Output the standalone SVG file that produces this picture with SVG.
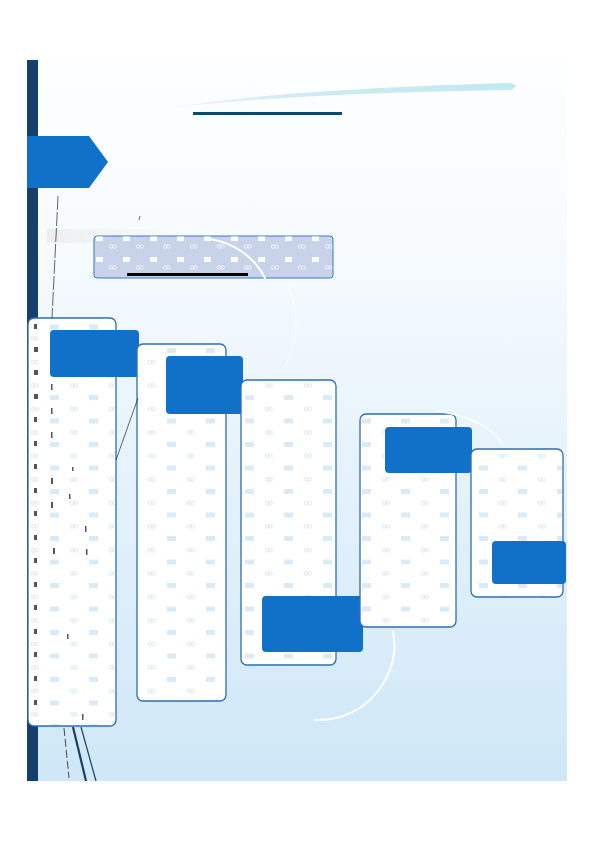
<svg xmlns="http://www.w3.org/2000/svg" width="595" height="842" viewBox="0 0 595 842">
<defs>
<linearGradient id="bg" x1="0" y1="0" x2="0" y2="1">
<stop offset="0" stop-color="#fdfeff"/>
<stop offset="0.25" stop-color="#f7fbfe"/>
<stop offset="0.5" stop-color="#e9f4fc"/>
<stop offset="1" stop-color="#cfe7f7"/>
</linearGradient>
<linearGradient id="swoosh" x1="0" y1="0" x2="1" y2="0">
<stop offset="0" stop-color="#d6eef3" stop-opacity="0.6"/>
<stop offset="0.4" stop-color="#cdebf1"/>
<stop offset="1" stop-color="#c4e8f0"/>
</linearGradient>
<linearGradient id="band" x1="0" y1="0" x2="1" y2="0">
<stop offset="0" stop-color="#eeeeee"/>
<stop offset="1" stop-color="#ffffff" stop-opacity="0"/>
</linearGradient>
<pattern id="cardPat" x="245" y="395" width="39" height="23.5" patternUnits="userSpaceOnUse">
<rect x="0" y="0" width="9" height="5" fill="#dceaf6"/>
<g fill="none" stroke="#d3e3f1" stroke-width="0.9">
<circle cx="22" cy="14" r="1.8"/><circle cx="25.5" cy="14" r="1.8"/>
</g>
</pattern>
<pattern id="banPat" x="96" y="236" width="27" height="21" patternUnits="userSpaceOnUse">
<rect x="0" y="0" width="7" height="5" fill="#ffffff"/>
<g fill="none" stroke="#eef2fa" stroke-width="1">
<circle cx="15" cy="10.5" r="1.8"/><circle cx="18.5" cy="10.5" r="1.8"/>
</g>
</pattern>
<style>
.card{fill:#ffffff;stroke:#2e6db6;stroke-width:1.3}
.pat{fill:url(#cardPat)}
.box{fill:#1170c8}
.thin{stroke:#222;stroke-width:0.7;fill:none}
.arc{stroke:#ffffff;stroke-width:2;fill:none;stroke-linecap:round}
.dk{fill:#555}
</style>
</defs>

<!-- background -->
<rect x="27" y="60" width="540" height="721" fill="url(#bg)"/>
<rect x="27" y="60" width="11" height="721" fill="#173f6b"/>

<!-- title decoration -->
<g id="title">
<path d="M170,108 C260,93 380,87 511,83 L517,86 L511,90 C380,92 260,97 170,108 Z" fill="url(#swoosh)"/>
<rect x="193" y="112" width="149" height="3" fill="#0e4a6e"/>
</g>

<!-- tab -->
<g id="tab">
<polygon points="27,136 89,136 108,162 89,188 27,188" fill="#1170c8"/>
</g>

<!-- banner -->
<g id="banner">
<rect x="47" y="229" width="240" height="14" fill="url(#band)"/>
<rect x="94" y="236" width="239" height="42" rx="3" fill="#c8d3ea" stroke="#3a78c0" stroke-width="1"/>
<rect x="94.5" y="236.5" width="238" height="41" rx="3" fill="url(#banPat)"/>
<rect x="127" y="273" width="121" height="3" fill="#000"/>
</g>

<!-- cards -->
<g id="card1">
<rect class="card" x="28" y="318" width="88" height="408" rx="6"/>
<rect class="pat" x="29" y="319" width="86" height="406" rx="6"/>
<g class="dk">
<rect x="34" y="324" width="3" height="5"/><rect x="34" y="347" width="4" height="5"/><rect x="34" y="370" width="4" height="5"/>
<rect x="34" y="394" width="4" height="5"/><rect x="34" y="417" width="3" height="5"/><rect x="34" y="441" width="3" height="5"/>
<rect x="34" y="464" width="3" height="5"/><rect x="34" y="488" width="3" height="5"/><rect x="34" y="511" width="3" height="5"/>
<rect x="34" y="535" width="3" height="5"/><rect x="34" y="558" width="3" height="5"/><rect x="34" y="582" width="3" height="5"/>
<rect x="34" y="605" width="3" height="5"/><rect x="34" y="629" width="3" height="5"/><rect x="34" y="652" width="3" height="5"/>
<rect x="34" y="676" width="3" height="5"/><rect x="34" y="700" width="3" height="5"/>
<rect x="51" y="384" width="1.5" height="6"/><rect x="51" y="408" width="1.5" height="6"/><rect x="51" y="432" width="1.5" height="6"/>
<rect x="51" y="478" width="2" height="6"/><rect x="51" y="502" width="2" height="6"/><rect x="53" y="548" width="2" height="6"/>
<rect x="82" y="714" width="1.5" height="6"/><rect x="86" y="549" width="1.5" height="6"/><rect x="85" y="526" width="1.5" height="6"/>
<rect x="72" y="467" width="1.5" height="4"/><rect x="69" y="494" width="1.5" height="5"/><rect x="67" y="634" width="1.5" height="5"/>
</g>
<rect class="box" x="50" y="330" width="89" height="47" rx="4"/>
</g>

<g id="card2">
<rect class="card" x="137" y="344" width="89" height="357" rx="6"/>
<rect class="pat" x="138" y="345" width="87" height="355" rx="6"/>
<rect class="box" x="166" y="356" width="77" height="58" rx="4"/>
</g>

<g id="card3">
<rect class="card" x="241" y="380" width="95" height="285" rx="6"/>
<rect class="pat" x="242" y="381" width="93" height="283" rx="6"/>
<rect class="box" x="262" y="596" width="101" height="56" rx="4"/>
</g>

<g id="card4">
<rect class="card" x="360" y="414" width="96" height="213" rx="6"/>
<rect class="pat" x="361" y="415" width="94" height="211" rx="6"/>
<rect class="box" x="385" y="427" width="87" height="46" rx="4"/>
</g>

<g id="card5">
<rect class="card" x="471" y="449" width="92" height="148" rx="6"/>
<rect class="pat" x="472" y="450" width="90" height="146" rx="6"/>
<rect class="box" x="492" y="541" width="74" height="43" rx="4"/>
</g>

<!-- connectors and decorative lines -->
<g id="connectors">
<path class="thin" d="M58,196 L52,318" stroke-dasharray="14,2"/>
<path class="thin" d="M140,216 L139,220"/>
<path class="thin" d="M116,460 L138,398"/>
<path d="M64,728 L69,778" stroke="#222" stroke-width="0.8" stroke-dasharray="8,3" fill="none"/>
<path d="M73,727 L86,781" stroke="#1d3f66" stroke-width="2.2" fill="none"/>
<path d="M81,727 L96,781" stroke="#1d3f66" stroke-width="1.2" fill="none"/>
<path class="arc" d="M210,239 C235,243 255,258 265,278"/>
<path d="M287,285 C300,310 298,345 285,365" stroke="#ffffff" stroke-width="1" fill="none" opacity="0.9"/>
<path class="arc" d="M393,632 C402,670 370,722 315,720"/>
<path d="M437,411 C470,416 495,428 503,446" stroke="#ffffff" stroke-width="1.5" fill="none"/>
</g>
</svg>
